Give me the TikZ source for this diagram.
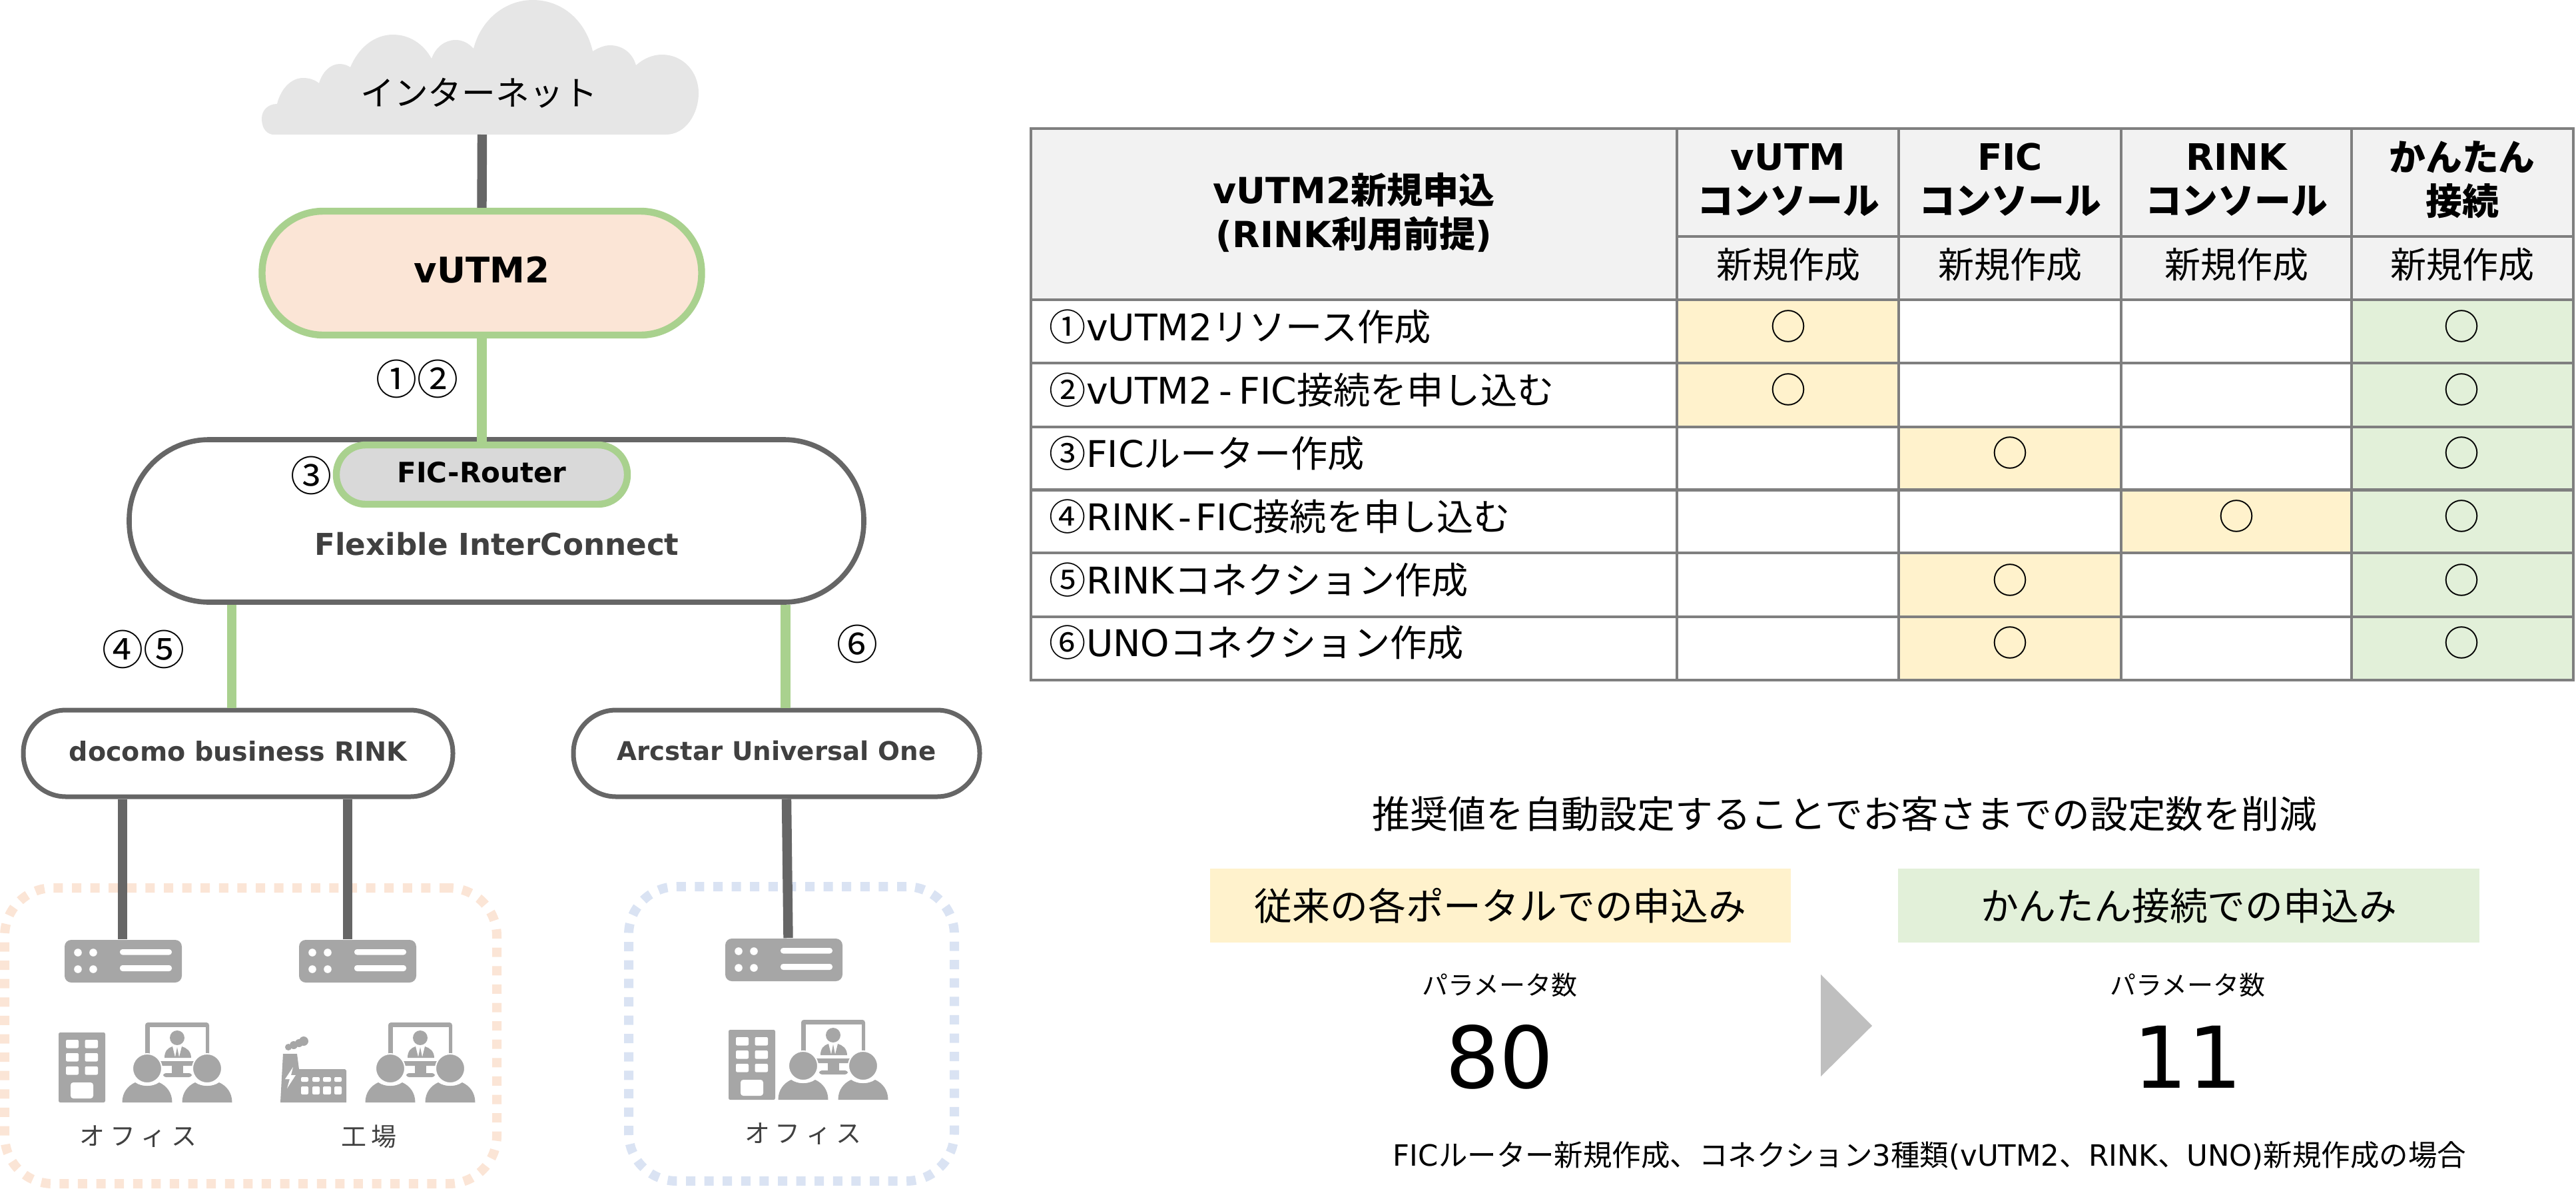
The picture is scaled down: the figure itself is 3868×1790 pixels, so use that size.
\documentclass[tikz,border=0pt]{standalone}
\usepackage{fontspec}
\setmainfont{Noto Sans CJK JP}
\newfontfamily\latf{DejaVu Sans}
\newcommand\ltn[1]{{\latf #1}}
\newcommand\fsz[1]{\fontsize{#1pt}{#1pt}\selectfont}
\definecolor{lnGrey}{HTML}{666666}
\definecolor{lnGreen}{HTML}{A9D18E}
\definecolor{peach}{HTML}{FBE5D6}
\definecolor{skyish}{HTML}{DAE3F3}
\definecolor{iconGrey}{HTML}{A6A6A6}
\definecolor{cloudGrey}{HTML}{E6E6E6}
\definecolor{tblLine}{HTML}{7F7F7F}
\definecolor{tblHead}{HTML}{F2F2F2}
\definecolor{tblYel}{HTML}{FFF2CC}
\definecolor{tblGrn}{HTML}{E2F0D9}
\definecolor{txtDark}{HTML}{404040}
\tikzset{
  greenline/.style={draw=lnGreen, line width=3.6pt},
  greyline/.style={draw=lnGrey, line width=3.6pt},
  routerbody/.style={fill=iconGrey, rounded corners=2.5pt, minimum width=44pt, minimum height=16pt, inner sep=0pt},
  dotbox/.style={line width=3.5pt, dash pattern=on 3.5pt off 3.4pt, rounded corners=18pt, inner sep=0pt},
  tlabel/.style={inner sep=0pt, anchor=center},
  circ/.style={tlabel, font=\fsz{15.5}},
  rowlab/.style={inner sep=0pt, anchor=west, font=\fsz{13.8}},
  okm/.style={tlabel, font=\fsz{13.5}},
  hdr/.style={tlabel, font=\fsz{13.7}\bfseries, align=center},
  sub/.style={tlabel, font=\fsz{13.5}},
  icw/.style={fill=white, rounded corners=0.5pt},
  ic/.style={fill=iconGrey}
}
\newcommand\routericon[3]{%
  \node[routerbody] (#1) at ({185+#2},{1443+#3}) {};
  \begin{scope}[shift={(#2,#3)}]
    \foreach \hx in {117,140} \foreach \hy in {1430,1455} \fill[white] (\hx,\hy) circle (5.8);
    \fill[icw,rounded corners=1pt] (180,1425) rectangle (258,1433.5);
    \fill[icw,rounded corners=1pt] (180,1449) rectangle (258,1458);
  \end{scope}}
\newcommand\buildingicon[2]{%
  \begin{scope}[shift={(#1,#2)}]
    \fill[ic,rounded corners=0.6pt] (88,1550) rectangle (158,1655);
    \foreach \wy in {1561,1581,1601} {
      \fill[icw] (99,\wy) rectangle (118,{\wy+12.5});
      \fill[icw] (127.5,\wy) rectangle (147,{\wy+12.5});
    }
    \fill[icw,rounded corners=1pt] (106,1625) rectangle (140,1649);
  \end{scope}}
\newcommand\personicon[1]{%
  \fill[ic] ({#1-37.5},1655) .. controls ({#1-37.5},1640) and ({#1-29},1630) .. ({#1-18},1625)
     .. controls ({#1-8},1632) and ({#1+8},1632) .. ({#1+18},1625)
     .. controls ({#1+29},1630) and ({#1+37.5},1640) .. ({#1+37.5},1655) -- cycle;
  \filldraw[fill=iconGrey,draw=white,line width=0.5pt] (#1,1604) circle (22);}
\newcommand\confgroup[2]{%
  \begin{scope}[shift={(#1,#2)}]
    \fill[ic,rounded corners=1pt] (218,1535) rectangle (314,1600);
    \fill[white] (225,1542) rectangle (309,1593);
    \fill[ic] (266,1558) circle (11);
    \fill[ic] (247,1588) .. controls (247,1578) and (252,1573) .. (259,1571) -- (263,1587) -- (266,1572) -- (269,1587) -- (273,1571)
       .. controls (280,1573) and (287,1578) .. (287,1588) -- cycle;
    \fill[ic] (258,1593) rectangle (275,1612);
    \fill[ic,rounded corners=1pt] (245,1611) rectangle (288,1617);
    \personicon{221}
    \personicon{311}
  \end{scope}}
\begin{document}
\begin{tikzpicture}[x=0.25pt,y=-0.25pt]
\useasboundingbox (0,0) rectangle (3868,1790);
% cloud
\fill[cloudGrey] (409,202) .. controls (398,200) and (393,190) .. (393,178)
  .. controls (393,165) and (403,156) .. (416,156)
  .. controls (422,132) and (438,117) .. (455,117) .. controls (465,117) and (473,120) .. (479,125)
  .. controls (484,108) and (496,96) .. (510,96) .. controls (516,96) and (522,98) .. (526,101)
  .. controls (538,72) and (562,52) .. (590,52) .. controls (615,52) and (636,66) .. (648,88)
  .. controls (654,71) and (668,60) .. (684,60) .. controls (695,60) and (704,65) .. (711,73)
  .. controls (722,30) and (758,0) .. (800,0) .. controls (845,0) and (880,32) .. (890,77)
  .. controls (898,72) and (907,68) .. (916,68) .. controls (935,68) and (950,80) .. (955,98)
  .. controls (966,88) and (980,82) .. (994,82) .. controls (1025,82) and (1049,107) .. (1049,140)
  .. controls (1049,170) and (1030,202) .. (1000,202) -- cycle;
\node[tlabel,font=\fsz{12.7}] (inet) at (719,140) {インターネット};
\coordinate (cloudfoot) at (724,202);
% main pills
\node[draw=lnGreen,line width=2.6pt,fill=peach,rounded corners=23pt,minimum width=165pt,minimum height=46.5pt,inner sep=0pt,font=\latf\bfseries\fsz{13.25}] (vutm) at (723.5,410) {\raisebox{2.4pt}{vUTM2}};
\node[draw=lnGrey,line width=1.9pt,fill=white,rounded corners=30pt,minimum width=275.75pt,minimum height=61pt,inner sep=0pt] (fic) at (745.5,782) {};
\node[draw=lnGreen,line width=2.6pt,fill=black!15,rounded corners=11pt,minimum width=109.25pt,minimum height=22.25pt,inner sep=0pt,font=\latf\bfseries\fsz{10.5}] (ficr) at (723.5,712.5) {\raisebox{2pt}{FIC-Router}};
\node[tlabel,text=txtDark,font=\latf\bfseries\fsz{11.3}] (ficname) at (746,817) {Flexible InterConnect};
\node[draw=lnGrey,line width=1.75pt,fill=white,rounded corners=16pt,minimum width=161.25pt,minimum height=32.5pt,inner sep=0pt,text=txtDark,font=\latf\bfseries\fsz{9.9}] (rink) at (357.5,1131) {\raisebox{2pt}{docomo business RINK}};
\node[draw=lnGrey,line width=1.75pt,fill=white,rounded corners=16pt,minimum width=152.5pt,minimum height=32.5pt,inner sep=0pt,text=txtDark,font=\latf\bfseries\fsz{9.7}] (uno) at (1166,1131) {\raisebox{2pt}{Arcstar Universal One}};
% dotted site frames
\node[draw=peach,dotbox,minimum width=184.75pt,minimum height=111pt] (siteA) at (376.5,1555) {};
\node[draw=skyish,dotbox,minimum width=122.25pt,minimum height=110.5pt] (siteB) at (1188.5,1552) {};
% routers
\routericon{r1}{0}{0}
\routericon{r2}{352}{0}
\routericon{r3}{992}{-2}
% connectors
\coordinate (xa) at (348,0);
\coordinate (xb) at (1179.5,0);
\coordinate (xc) at (184,0);
\coordinate (xd) at (522,0);
\coordinate (xe) at (1181,0);
\coordinate (xf) at (1183.5,0);
\draw[greyline] (cloudfoot) -- (vutm.north);
\draw[greenline] (vutm.south) -- (ficr.north);
\draw[greenline] (xa |- fic.south) -- (xa |- rink.north);
\draw[greenline] (xb |- fic.south) -- (xb |- uno.north);
\draw[greyline] (xc |- rink.south) -- (xc |- r1.north);
\draw[greyline] (xd |- rink.south) -- (xd |- r2.north);
\draw[greyline] (xe |- uno.south) -- (xf |- r3.north);
% circled numbers
\node[circ] (n12) at (626,569) {①②};
\node[circ] (n3) at (467,714) {③};
\node[circ] (n45) at (215,975) {④⑤};
\node[circ] (n6) at (1287,967) {⑥};
% site icons
\buildingicon{0}{0}
\confgroup{0}{0}
\fill[ic] (425,1582) -- (446,1582) -- (449,1605) -- (518,1605) -- (520,1607) -- (520,1655) -- (421,1655) -- cycle;
\fill[ic] (433,1572) circle (5);
\fill[ic] (441,1569) circle (6);
\fill[ic] (449,1566) circle (6);
\fill[ic] (456,1563) circle (7);
\fill[white] (440,1602) -- (428,1620) -- (435,1620) -- (431,1634) -- (444,1614) -- (437,1614) -- cycle;
\foreach \wx/\wz in {452/463,469/480,485/497,502/513} {
  \fill[icw] (\wx,1617) rectangle (\wz,1624);
  \fill[icw] (\wx,1631) rectangle (\wz,1643);
}
\confgroup{365}{0}
\buildingicon{1006}{-4}
\confgroup{985}{-4}
\node[tlabel,text=txtDark,font=\fsz{9.5}] (lbA) at (208,1706) {オ\kern2ptフ\kern2ptィ\kern2ptス};
\node[tlabel,text=txtDark,font=\fsz{9.5}] (lbB) at (554,1706) {工\kern2pt場};
\node[tlabel,text=txtDark,font=\fsz{9.5}] (lbC) at (1206,1702) {オ\kern2ptフ\kern2ptィ\kern2ptス};
% table fills
\fill[tblHead] (1548,193) rectangle (3864,450);
\fill[tblYel] (2518,450) rectangle (2851,641);
\fill[tblYel] (2851,641) rectangle (3185,735.5);
\fill[tblYel] (3185,735.5) rectangle (3531,830);
\fill[tblYel] (2851,830) rectangle (3185,1021);
\fill[tblGrn] (3531,450) rectangle (3864,1021);
% table lines
\begin{scope}[draw=tblLine,line width=1.15pt]
\draw (1548,193) rectangle (3864,1021);
\foreach \ly in {450,545,641,735.5,830,926} \draw (1548,\ly) -- (3864,\ly);
\draw (2518,355) -- (3864,355);
\foreach \lx in {2518,2851,3185,3531} \draw (\lx,193) -- (\lx,1021);
\end{scope}
% table texts
\node[hdr,font=\fsz{13.5}\bfseries] (h0a) at (2033,285) {\ltn{vUTM2}新規申込};
\node[hdr,font=\fsz{13.5}\bfseries] (h0b) at (2033,352) {\ltn{(RINK}利用前提\ltn{)}};
\node[hdr] (h1a) at (2685,236) {\ltn{vUTM}};
\node[hdr] (h1b) at (2685,302) {コンソール};
\node[hdr] (h2a) at (3018,236) {\ltn{FIC}};
\node[hdr] (h2b) at (3018,302) {コンソール};
\node[hdr] (h3a) at (3358,236) {\ltn{RINK}};
\node[hdr] (h3b) at (3358,302) {コンソール};
\node[hdr] (h4a) at (3697,236) {かんたん};
\node[hdr] (h4b) at (3697,302) {接続};
\node[sub] (s1) at (2685,397) {新規作成};
\node[sub] (s2) at (3018,397) {新規作成};
\node[sub] (s3) at (3358,397) {新規作成};
\node[sub] (s4) at (3697,397) {新規作成};
\node[rowlab] (row1) at (1575,491) {①\ltn{vUTM2}リソース作成};
\node[rowlab] (row2) at (1575,586) {②\ltn{vUTM2\kern2.5pt-\kern2.5ptFIC}接続を申し込む};
\node[rowlab] (row3) at (1575,681) {③\ltn{FIC}ルーター作成};
\node[rowlab] (row4) at (1575,776) {④\ltn{RINK\kern1.5pt-\kern1.5ptFIC}接続を申し込む};
\node[rowlab] (row5) at (1575,871) {⑤\ltn{RINK}コネクション作成};
\node[rowlab] (row6) at (1575,965) {⑥\ltn{UNO}コネクション作成};
\node[okm] (m11) at (2685,490) {○};
\node[okm] (m21) at (2685,585) {○};
\node[okm] (m32) at (3018,680) {○};
\node[okm] (m43) at (3358,775) {○};
\node[okm] (m52) at (3018,871) {○};
\node[okm] (m62) at (3018,965) {○};
\node[okm] (m14) at (3696,490) {○};
\node[okm] (m24) at (3696,585) {○};
\node[okm] (m34) at (3696,680) {○};
\node[okm] (m44) at (3696,775) {○};
\node[okm] (m54) at (3696,871) {○};
\node[okm] (m64) at (3696,965) {○};
% lower right
\node[tlabel,font=\fsz{14.2}] (title) at (2770,1222) {推奨値を自動設定することでお客さまでの設定数を削減};
\node[fill=tblYel,minimum width=218pt,minimum height=27.75pt,inner sep=0pt,font=\fsz{14.2}] (old) at (2253,1359.5) {従来の各ポータルでの申込み};
\node[fill=tblGrn,minimum width=218.25pt,minimum height=27.75pt,inner sep=0pt,font=\fsz{14.2}] (new) at (3286.5,1359.5) {かんたん接続での申込み};
\node[tlabel,font=\fsz{9.75}] (pa) at (2252,1479) {パラメータ数};
\node[tlabel,font=\fsz{9.75}] (pb) at (3285,1479) {パラメータ数};
\node[tlabel,font=\latf\fsz{32}] (va) at (2252,1587) {80};
\node[tlabel,font=\latf\fsz{32}] (vb) at (3285,1587) {11};
\fill[black!25] (2734,1463) -- (2811,1540) -- (2734,1616) -- cycle;
\node[tlabel,font=\fsz{11}] (foot) at (2897.5,1735) {\resizebox{402.75pt}{\height}{\ltn{FIC}ルーター新規作成、コネクション\ltn{3}種類\ltn{(vUTM2}、\ltn{RINK}、\ltn{UNO)}新規作成の場合}};
\end{tikzpicture}
\end{document}
